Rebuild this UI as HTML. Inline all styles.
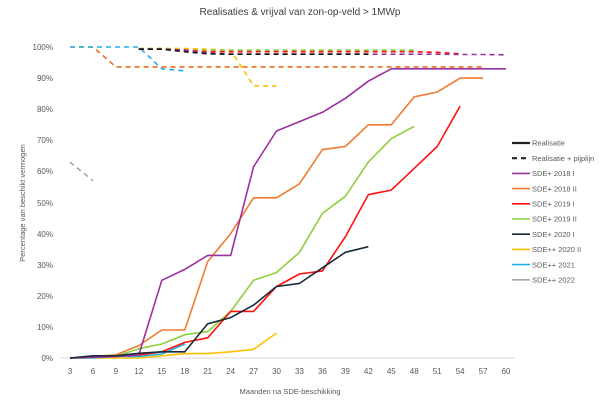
<!DOCTYPE html>
<html><head><meta charset="utf-8"><style>body{margin:0;background:#fff}svg{font-family:"Liberation Sans",sans-serif}</style></head><body>
<svg width="600" height="400" xmlns="http://www.w3.org/2000/svg">
<rect width="600" height="400" fill="#fff"/>
<text x="300" y="15" font-size="10" fill="#404040" text-anchor="middle">Realisaties &amp; vrijval van zon-op-veld &gt; 1MWp</text>
<g font-size="8" fill="#595959" text-anchor="end">
<text x="53" y="361">0%</text><text x="53" y="330">10%</text><text x="53" y="299">20%</text><text x="53" y="268">30%</text><text x="53" y="237">40%</text><text x="53" y="206">50%</text><text x="53" y="174">60%</text><text x="53" y="143">70%</text><text x="53" y="112">80%</text><text x="53" y="81">90%</text><text x="53" y="50">100%</text>
</g>
<line x1="60" y1="358" x2="515" y2="358" stroke="#d9d9d9" stroke-width="1"/>
<g font-size="8" fill="#595959" text-anchor="middle" id="xl"></g>
<text x="290" y="394" font-size="7.5" fill="#595959" text-anchor="middle">Maanden na SDE-beschikking</text>
<text transform="translate(25,203) rotate(-90)" font-size="7.5" fill="#595959" text-anchor="middle">Percentage van beschikt vermogen</text>
<g id="s" fill="none" stroke-width="1.6" stroke-linejoin="round"></g>
<g font-size="7.5" fill="#595959" id="lg"></g>
</svg>
<script>
var X=m=>70+(m-3)/3*22.95, Y=v=>358-v*3.11;
var xl=document.getElementById('xl'),h='';
for(var m=3;m<=60;m+=3)h+='<text x="'+X(m)+'" y="374">'+m+'</text>';
xl.innerHTML=h;
function P(st,vals,col,d){var p=[];for(var i=0;i<vals.length;i++)if(vals[i]!=null)p.push(X(st+3*i).toFixed(1)+','+Y(vals[i]).toFixed(1));
return '<polyline points="'+p.join(' ')+'" stroke="'+col+'"'+(d?' stroke-dasharray="5,4"':'')+'/>';}
var s='';
s+=P(3,[63,57],'#a6a6a6',1);
s+=P(3,[100,100,93.6,93.6,93.6,93.6,93.6,93.6,93.6,93.6,93.6,93.6,93.6,93.6,93.6,93.6,93.6,93.6,93.6],'#f06a1c',1);
s+=P(3,[100,100,100,100,93,92.3],'#1fb0e8',1);
s+=P(12,[99.5,99.5,99.5,99.3,99,87.5,87.5],'#ffc000',1);
s+=P(12,[99.5,99.5,99,99,99,99,99,99,99,99,99,99,99],'#8fce3c',1);
s+=P(12,[99.3,99.3,99,98.5,98.5,98.5,98.5,98.5,98.5,98.5,98.5,98.5,98.5,98.3,97.8],'#ff1010',1);
s+=P(12,[99.3,99.3,99,98,97.7,97.7,97.7,97.7,97.7,97.7,97.7,97.7,97.7,97.7,97.6,97.6,97.5],'#9b30a0',1);
s+=P(12,[99.3,99.3,98.5,97.8,97.7,97.7,97.7,97.7,97.7,97.7,97.7],'#111',1);
s+=P(3,[0,0,0,0,0.7,1.4,1.4,2,2.8,8],'#ffc000');
s+=P(3,[0,0,0.5,0.5,1.3,4.5],'#1fb0e8');
s+=P(3,[0,0.3,0.5,3,4.5,7.5,8.5,15,25,27.5,34,46.5,52,63,70.5,74.5],'#8fce3c');
s+=P(3,[0,0.3,0.5,1,2,5,6.5,15,15,23,27,28,39,52.5,54,61,68,81],'#ff1010');
s+=P(3,[0,0.5,1,4,9,9,31,40,51.5,51.5,56,67,68,75,75,84,85.5,90,90],'#f07a30');
s+=P(3,[0,0.3,0.5,1,25,28.5,33,33,61.5,73,76,79,83.5,89,93,93,93,93,93,93],'#9b30a0');
s+=P(3,[0,0.7,0.7,1.5,2,2,11,13,17,23,24,29,34,35.8],'#1a2a3a');
document.getElementById('s').innerHTML=s;
var L=[['Realisatie','#222',0],['Realisatie + pijplijn','#222',1],['SDE+ 2018 I','#9b30a0',0],['SDE+ 2018 II','#f07a30',0],['SDE+ 2019 I','#ff1010',0],['SDE+ 2019 II','#8fce3c',0],['SDE+ 2020 I','#1a2a3a',0],['SDE++ 2020 II','#ffc000',0],['SDE++ 2021','#1fb0e8',0],['SDE++ 2022','#a6a6a6',0]];
var g='';L.forEach((l,i)=>{var y=143+i*15.2;g+='<line x1="512" y1="'+y+'" x2="530" y2="'+y+'" stroke="'+l[1]+'" stroke-width="'+(i<2?2.2:1.6)+'"'+(l[2]?' stroke-dasharray="5,4"':'')+'/><text x="532" y="'+(y+2.7)+'">'+l[0]+'</text>';});
document.getElementById('lg').innerHTML=g;
</script>
</body></html>
